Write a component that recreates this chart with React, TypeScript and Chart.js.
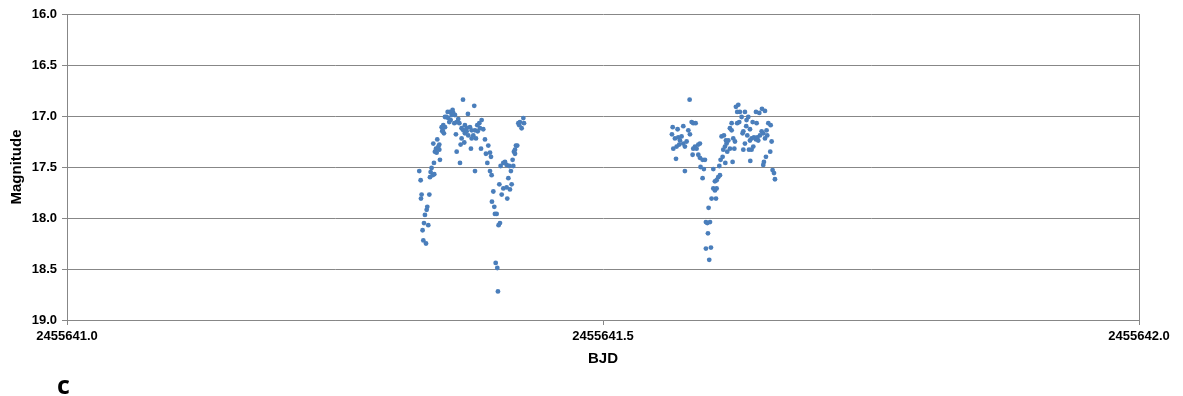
import React, { useEffect, useRef } from "react";
import { Chart, registerables } from "chart.js";

Chart.register(...registerables);

const BJD_BASE = 2455641;
const xTickValues = [0, 0.5, 1.0];
const yTickValues = [16.0, 16.5, 17.0, 17.5, 18.0, 18.5, 19.0];
const xTitle = "BJD";
const yTitle = "Magnitude";
const panelLabel = "c";

// BJD - 2455641
const bjdOffset = [
  0.3286, 0.3299, 0.3302, 0.3308, 0.3317, 0.3324, 0.3349, 0.3330, 0.3339, 0.3355,
  0.3361, 0.3370, 0.3380, 0.3386, 0.3392, 0.3401, 0.3411, 0.3426, 0.3423, 0.3417,
  0.3442, 0.3454, 0.3464, 0.3473, 0.3448, 0.3479, 0.3495, 0.3510, 0.3504, 0.3516,
  0.3501, 0.3526, 0.3541, 0.3551, 0.3557, 0.3572, 0.3579, 0.3566, 0.3597, 0.3603,
  0.3619, 0.3613, 0.3628, 0.3635, 0.3650, 0.3660, 0.3666, 0.3672, 0.3681, 0.3681,
  0.3694, 0.3697, 0.3706, 0.3712, 0.3728, 0.3740, 0.3759, 0.3768, 0.3775, 0.3775,
  0.3790, 0.3799, 0.3806, 0.3806, 0.3815, 0.3827, 0.3831, 0.3846, 0.3868, 0.3883,
  0.3862, 0.3899, 0.3908, 0.3930, 0.3921, 0.3946, 0.3955, 0.3946, 0.3961, 0.3977,
  0.3964, 0.3986, 0.3992, 0.4008, 0.4026, 0.4039, 0.3999, 0.4014, 0.4020, 0.4033,
  0.4055, 0.4070, 0.4101, 0.4107, 0.4117, 0.4132, 0.4148, 0.4045, 0.4070, 0.4086,
  0.4101, 0.4126, 0.4141, 0.4157, 0.4163, 0.4169, 0.4179, 0.4188, 0.4200, 0.4179,
  0.4210, 0.4219, 0.4225, 0.4241, 0.4257, 0.4263, 0.3526, 0.3588, 0.3635, 0.3728,
  0.3743, 0.3852, 0.3473, 0.3432, 0.3712,
  0.5808, 0.5650, 0.5696, 0.5749, 0.5643, 0.5671, 0.5702, 0.5718, 0.5733, 0.5656,
  0.5687, 0.5711, 0.5749, 0.5764, 0.5780, 0.5681, 0.5764, 0.5796, 0.5811, 0.5827,
  0.5842, 0.5864, 0.5842, 0.5858, 0.5873, 0.5889, 0.5904, 0.5836, 0.5889, 0.5904,
  0.5929, 0.5951, 0.5910, 0.5941, 0.5929, 0.6029, 0.6044, 0.6060, 0.6075, 0.6091,
  0.6029, 0.6044, 0.6060, 0.6013, 0.6054, 0.5985, 0.5960, 0.5973, 0.5998, 0.5979,
  0.5960, 0.6007, 0.5991, 0.6085, 0.6097, 0.6116, 0.6106, 0.6128, 0.6141, 0.6138,
  0.6153, 0.6169, 0.6159, 0.6184, 0.6184, 0.6200, 0.6215, 0.6225, 0.6209, 0.6231,
  0.6252, 0.6271, 0.6293, 0.6277, 0.6240, 0.6262, 0.6252, 0.6324, 0.6339, 0.6355,
  0.6336, 0.6309, 0.6302, 0.6324, 0.6309, 0.6362, 0.6374, 0.6402, 0.6371, 0.6386,
  0.6408, 0.6427, 0.6439, 0.6448, 0.6464, 0.6480, 0.6495, 0.6511, 0.6526, 0.6532,
  0.6573, 0.6396, 0.6433, 0.6427, 0.6458, 0.6483, 0.6511, 0.6542, 0.6564, 0.6560,
  0.6520, 0.6501, 0.6495, 0.6582, 0.6595, 0.6604, 0.6371, 0.6346, 0.6386, 0.6200,
  0.6147, 0.6122,
];

const magnitude = [
  17.54, 17.63, 17.81, 17.77, 18.12, 18.22, 18.25, 18.05, 17.97, 17.92,
  17.89, 18.07, 17.77, 17.60, 17.55, 17.51, 17.58, 17.57, 17.46, 17.27,
  17.32, 17.23, 17.30, 17.33, 17.36, 17.43, 17.11, 17.09, 17.14, 17.17,
  17.15, 17.11, 17.01, 16.96, 17.02, 16.96, 17.04, 17.06, 16.94, 16.97,
  16.99, 17.07, 17.18, 17.35, 17.03, 17.07, 17.46, 17.28, 17.12, 17.22,
  16.84, 17.14, 17.26, 17.17, 17.15, 16.98, 17.11, 17.32, 17.14, 17.22,
  17.19, 16.90, 17.14, 17.54, 17.22, 17.09, 17.15, 17.07, 17.04, 17.13,
  17.32, 17.23, 17.37, 17.29, 17.46, 17.36, 17.40, 17.54, 17.58, 17.74,
  17.84, 17.89, 17.96, 17.96, 18.07, 18.05, 18.44, 18.49, 18.72, 17.67,
  17.77, 17.71, 17.70, 17.81, 17.61, 17.72, 17.67, 17.49, 17.46, 17.45,
  17.48, 17.49, 17.54, 17.43, 17.49, 17.35, 17.33, 17.29, 17.29, 17.37,
  17.07, 17.09, 17.06, 17.12, 17.02, 17.07, 17.01, 16.99, 17.06, 17.12,
  17.19, 17.12, 17.28, 17.35, 17.09,
  16.84, 17.11, 17.13, 17.10, 17.18, 17.22, 17.21, 17.24, 17.20, 17.32,
  17.30, 17.28, 17.27, 17.30, 17.25, 17.42, 17.54, 17.14, 17.18, 17.06,
  17.07, 17.07, 17.32, 17.30, 17.32, 17.28, 17.27, 17.38, 17.38, 17.41,
  17.43, 17.43, 17.50, 17.52, 17.61, 17.52, 17.64, 17.63, 17.60, 17.58,
  17.71, 17.73, 17.71, 17.81, 17.81, 17.90, 18.04, 18.05, 18.04, 18.15,
  18.30, 18.29, 18.41, 17.49, 17.43, 17.40, 17.20, 17.19, 17.46, 17.30,
  17.27, 17.24, 17.35, 17.32, 17.12, 17.14, 17.22, 17.32, 17.45, 17.25,
  17.07, 17.06, 17.01, 16.96, 16.91, 16.89, 16.96, 16.96, 17.04, 17.01,
  17.10, 17.15, 17.17, 17.27, 17.33, 17.33, 17.44, 17.30, 17.24, 17.22,
  17.21, 17.23, 17.21, 17.24, 17.19, 17.15, 17.17, 17.22, 17.14, 17.19,
  17.25, 17.06, 17.07, 16.96, 16.97, 16.93, 16.95, 17.07, 17.09, 17.35,
  17.40, 17.45, 17.48, 17.53, 17.56, 17.62, 17.13, 17.19, 17.33, 17.07,
  17.24, 17.33,
];

const POINT_COLOR = "#4A7EBB";
const GRID_COLOR = "#878787";
const FONT_FAMILY = '"Liberation Sans", Arial, sans-serif';

export default function App() {
  const canvasRef = useRef<HTMLCanvasElement | null>(null);

  useEffect(() => {
    const canvas = canvasRef.current;
    if (!canvas) return;

    const points = bjdOffset.map((x, i) => ({ x, y: magnitude[i] }));

    const panelLabelPlugin = {
      id: "panelLabel",
      afterDraw(chart: any) {
        const ctx = chart.ctx;
        ctx.save();
        ctx.fillStyle = "#000";
        ctx.font = 'bold 25px "Open Sans", sans-serif';
        ctx.textBaseline = "alphabetic";
        ctx.textAlign = "left";
        ctx.fillText(panelLabel, 57, 394);
        ctx.restore();
      },
    };

    const chart = new Chart(canvas, {
      type: "scatter",
      data: {
        datasets: [
          {
            data: points,
            backgroundColor: POINT_COLOR,
            borderColor: POINT_COLOR,
            borderWidth: 0,
            pointRadius: 2.4,
            pointHoverRadius: 2.4,
          },
        ],
      },
      plugins: [panelLabelPlugin],
      options: {
        animation: false,
        responsive: false,
        devicePixelRatio: 1,
        layout: { padding: { top: 14, right: 44, bottom: 26, left: 0 } },
        plugins: {
          legend: { display: false },
          tooltip: { enabled: false },
        },
        scales: {
          x: {
            type: "linear",
            min: 0,
            max: 1,
            afterBuildTicks: (scale: any) => {
              scale.ticks = xTickValues.map((v) => ({ value: v }));
            },
            afterFit: (scale: any) => {
              scale.height = 50;
            },
            ticks: {
              color: "#000",
              font: { family: FONT_FAMILY, size: 13, weight: "bold" },
              padding: 4,
              maxRotation: 0,
              autoSkip: false,
              callback: (v: any) => (BJD_BASE + Number(v)).toFixed(1),
            },
            grid: {
              color: (ctx: any) =>
                ctx.index === xTickValues.length - 1 ? GRID_COLOR : "rgba(0,0,0,0)",
              tickColor: GRID_COLOR,
              tickLength: 5,
              lineWidth: 1,
            },
            border: { display: true, color: GRID_COLOR, width: 1 },
            title: {
              display: true,
              text: xTitle,
              color: "#000",
              font: { family: FONT_FAMILY, size: 15, weight: "bold" },
              padding: { top: 0, bottom: 2 },
            },
          },
          y: {
            type: "linear",
            reverse: true,
            min: 16,
            max: 19,
            afterBuildTicks: (scale: any) => {
              scale.ticks = yTickValues.map((v) => ({ value: v }));
            },
            afterFit: (scale: any) => {
              scale.width = 67;
            },
            ticks: {
              color: "#000",
              font: { family: FONT_FAMILY, size: 13, weight: "bold" },
              padding: 5,
              autoSkip: false,
              callback: (v: any) => Number(v).toFixed(1),
            },
            grid: {
              color: GRID_COLOR,
              tickColor: GRID_COLOR,
              tickLength: 5,
              lineWidth: 1,
            },
            border: { display: true, color: GRID_COLOR, width: 1 },
            title: {
              display: true,
              text: yTitle,
              color: "#000",
              font: { family: FONT_FAMILY, size: 15, weight: "bold" },
              padding: { top: 8, bottom: 4 },
            },
          },
        },
      },
    } as any);

    return () => {
      chart.destroy();
    };
  }, []);

  return (
    <div style={{ position: "absolute", left: 0, top: 0, width: 1183, height: 396 }}>
      <canvas ref={canvasRef} width={1183} height={396} style={{ display: "block" }} />
    </div>
  );
}
